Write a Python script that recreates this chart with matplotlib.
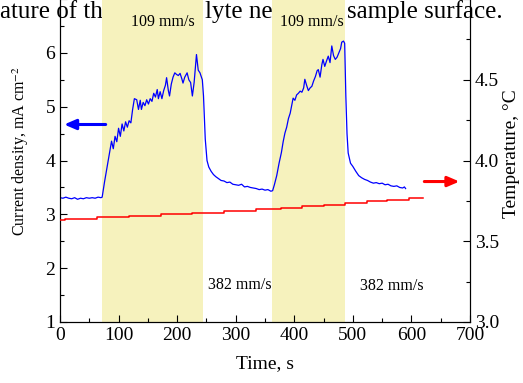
import numpy as np
import matplotlib
matplotlib.use('Agg')
import matplotlib.pyplot as plt

plt.rcParams['font.family'] = ['Liberation Serif', 'DejaVu Serif']
plt.rcParams['mathtext.fontset'] = 'stix'

# current density (left axis)
t_cur = [0, 5, 10, 15, 20, 25, 30, 35, 40, 45, 50, 55, 60, 65, 70,
         72, 76, 80, 84, 88, 91, 94, 97, 100, 103, 106, 109, 112, 115, 118,
         121, 124, 127, 131, 134, 137, 139, 142, 145, 148, 151, 154, 157, 160,
         163, 166, 168, 171, 174, 177, 180, 182, 185, 187, 190, 193, 196, 199,
         202, 205, 208, 210, 213, 217, 220, 223, 226, 229, 233, 236, 239, 243,
         245, 248, 251, 254, 258, 262, 266, 270, 275, 280, 285, 290, 295, 300,
         305, 310, 315, 320, 325, 330, 335, 340, 345, 350, 355, 360, 363,
         366, 370, 374, 378, 381, 384, 387, 390, 393, 396, 398, 401, 404, 407,
         410, 413, 416, 418, 421, 424, 427, 430, 433, 436, 439, 441, 444, 447,
         449, 452, 455, 458, 461, 464, 467, 470, 473, 476, 479, 481, 484, 486,
         488, 490, 492, 496, 500, 505, 510, 515, 520, 525, 530, 535, 540, 545,
         550, 555, 560, 565, 570, 575, 580, 585, 588, 590]
j_cur = [3.31, 3.30, 3.32, 3.30, 3.29, 3.31, 3.28, 3.30, 3.29, 3.31, 3.30, 3.31, 3.30, 3.32, 3.31,
         3.32, 3.60, 3.85, 4.10, 4.36, 4.22, 4.45, 4.35, 4.60, 4.45, 4.68, 4.55, 4.72, 4.62, 4.74,
         4.70, 4.95, 5.15, 5.13, 4.95, 5.12, 4.95, 5.08, 5.02, 5.13, 5.05, 5.15, 5.10, 5.25,
         5.18, 5.32, 5.15, 5.28, 5.15, 5.30, 5.40, 5.54, 5.30, 5.20, 5.42, 5.55, 5.63, 5.60,
         5.58, 5.62, 5.52, 5.44, 5.55, 5.63, 5.50, 5.45, 5.20, 5.45, 5.97, 5.68, 5.63, 5.50,
         5.20, 4.40, 4.00, 3.88, 3.80, 3.74, 3.70, 3.67, 3.63, 3.62, 3.59, 3.60, 3.56, 3.55,
         3.54, 3.56, 3.51, 3.52, 3.50, 3.49, 3.48, 3.46, 3.47, 3.45, 3.46, 3.43, 3.44,
         3.55, 3.72, 3.95, 4.15, 4.35, 4.51, 4.62, 4.78, 4.88, 5.05, 5.16, 5.12, 5.22, 5.25,
         5.29, 5.27, 5.35, 5.51, 5.40, 5.30, 5.35, 5.38, 5.48, 5.56, 5.67, 5.69, 5.55, 5.78,
         5.88, 5.75, 5.85, 5.94, 5.82, 6.13, 5.95, 5.88, 5.92, 6.00, 6.08, 6.20, 6.22, 6.18,
         5.20, 4.50, 4.14, 3.95, 3.89, 3.80, 3.72, 3.68, 3.65, 3.63, 3.60, 3.58, 3.59, 3.57,
         3.58, 3.55, 3.56, 3.53, 3.52, 3.53, 3.50, 3.49, 3.51, 3.48]

# temperature (right axis), stepwise
t_temp = [0, 8, 64, 118, 172, 225, 280, 335, 378, 414, 450, 487, 524, 558, 595, 619]
temp = [3.630, 3.640, 3.650, 3.656, 3.671, 3.677, 3.690, 3.698, 3.706, 3.716,
        3.727, 3.736, 3.749, 3.757, 3.767, 3.767]

# high flow rate periods
spans = [(72, 244), (362, 487)]
span_labels = [(176, 6.58, '109 mm/s'), (430, 6.58, '109 mm/s'),
               (307, 1.69, '382 mm/s'), (567, 1.66, '382 mm/s')]

fig = plt.figure(figsize=(5.23, 3.83), dpi=100)
ax = fig.add_axes([0.1147, 0.1593, 0.784, 0.8430])

# caption text of the page above the chart, partly covered by the spans
for xpx, s in [(0, 'ature of the electro'), (205, 'lyte near the'), (347, 'sample surface.')]:
    ax.text(xpx / 523, 1 - 18 / 383, s, transform=fig.transFigure, fontsize=18,
            ha='left', va='baseline', zorder=0.5, clip_on=False)

for a, b in spans:
    ax.axvspan(a, b, color='#f6f2bd', lw=0, zorder=1)

ax.plot(t_cur, j_cur, color='#0000ff', lw=0.9, zorder=3)

ax.set_xlim(0, 700)
ax.set_ylim(1, 7)
ax.set_xticks(range(0, 701, 100))
ax.set_xticks(range(50, 700, 100), minor=True)
ax.set_yticks(range(1, 8))
ax.set_yticklabels(['1', '2', '3', '4', '5', '6', ''])
ax.set_yticks(np.arange(1.5, 7, 1.0), minor=True)
ax.tick_params(direction='in', labelsize=14, length=5, width=0.8, top=False)
ax.tick_params(which='minor', direction='in', length=3, width=0.8, top=False)
ax.set_xlabel('Time, s', fontsize=14, labelpad=8)
ax.set_ylabel('Current density, mA cm$^{-2}$', fontsize=11.5)
ax.yaxis.set_label_coords(-0.07, 0.53)
ax.spines['top'].set_visible(False)

for x, y, s in span_labels:
    ax.text(x, y, s, fontsize=11.5, ha='center', va='center', zorder=4)

ax.annotate('', xy=(7, 4.67), xytext=(78, 4.67),
            arrowprops=dict(arrowstyle='-|>,head_length=0.7,head_width=0.3',
                            color='#0000ff', lw=2.2, shrinkA=0, shrinkB=0), zorder=4)

ax2 = ax.twinx()
ax2.step(t_temp, temp, where='post', color='#ff0000', lw=1.1, zorder=3)
ax2.set_ylim(3.0, 5.0)
ax2.set_yticks([3.0, 3.5, 4.0, 4.5, 5.0])
ax2.set_yticklabels(['3.0', '3.5', '4.0', '4.5', ''])
ax2.set_yticks(np.arange(3.25, 5.0, 0.5), minor=True)
ax2.tick_params(direction='in', labelsize=14, length=5, width=0.8)
ax2.tick_params(which='minor', direction='in', length=3, width=0.8)
ax2.set_ylabel('Temperature, °C', fontsize=14)
ax2.yaxis.set_label_coords(1.08, 0.52)
ax2.spines['top'].set_visible(False)

ax2.annotate('', xy=(682, 3.87), xytext=(622, 3.87),
             arrowprops=dict(arrowstyle='-|>,head_length=0.7,head_width=0.3',
                             color='#ff0000', lw=2.2, shrinkA=0, shrinkB=0), zorder=4)

fig.savefig('out.png', dpi=100)
